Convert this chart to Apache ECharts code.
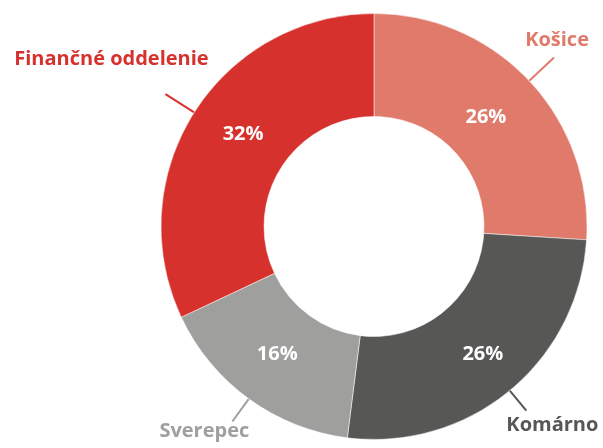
<!DOCTYPE html>
<html>
<head>
<meta charset="utf-8">
<script src="https://cdn.jsdelivr.net/npm/echarts@6/dist/echarts.min.js"></script>
<style>
  html, body { margin: 0; padding: 0; background: #fff; }
  #chart { width: 603px; height: 448px; }
</style>
</head>
<body>
<div id="chart"></div>
<script>
// chart data
var names = ["Košice", "Komárno", "Sverepec", "Finančné oddelenie"];
var values = [26, 26, 16, 32];
var colors = ["#E07B6B", "#575755", "#9F9F9E", "#D6312D"];

// label tweaks (px): leader length, name shift from leader end, percent shift from slice middle
var lineLen = [34, 26, 28, 34];
var nameShift = [[3, -17], [26, 15], [-28, 10], [-54, -35]];
var pctShift = [[-8, 3], [4, 1], [0, -5], [8, -4]];

var font = { fontFamily: "Open Sans", fontWeight: "bold", fontSize: 20 };
var center = [374, 226.5];
var radius = [110, 213];

var myChart = echarts.init(document.getElementById("chart"));

var outerData = names.map(function (n, i) {
  return {
    name: n,
    value: values[i],
    itemStyle: { color: colors[i] },
    label: { color: colors[i] },
    labelLine: { length: lineLen[i], lineStyle: { color: colors[i] } }
  };
});

var innerData = names.map(function (n, i) {
  return { name: n, value: values[i] };
});

myChart.setOption({
  animation: false,
  series: [
    {
      // donut + outside names
      type: "pie",
      center: center,
      radius: radius,
      avoidLabelOverlap: false,
      emphasis: { disabled: true },
      itemStyle: { borderColor: "#fff", borderWidth: 0.5 },
      label: Object.assign({ show: true, position: "outside", formatter: "{b}" }, font),
      labelLine: { show: true, length2: 0, smooth: false, lineStyle: { width: 2 } },
      labelLayout: function (p) {
        var pts = p.labelLinePoints;
        var end = pts[pts.length - 1];
        var s = nameShift[p.dataIndex];
        return {
          x: end[0] + s[0],
          y: end[1] + s[1],
          align: "center",
          verticalAlign: "middle",
          labelLinePoints: pts
        };
      },
      data: outerData
    },
    {
      // percent labels inside the ring
      type: "pie",
      center: center,
      radius: radius,
      silent: true,
      emphasis: { disabled: true },
      itemStyle: { color: "rgba(0,0,0,0)" },
      label: Object.assign({ show: true, position: "inside", formatter: "{c}%", color: "#fff" }, font),
      labelLine: { show: false },
      labelLayout: function (p) {
        var r = p.labelRect;
        var s = pctShift[p.dataIndex];
        return {
          x: r.x + r.width / 2 + s[0],
          y: r.y + r.height / 2 + s[1],
          align: "center",
          verticalAlign: "middle"
        };
      },
      data: innerData
    }
  ]
});

window.addEventListener("resize", function () {
  myChart.resize();
});
</script>
</body>
</html>
